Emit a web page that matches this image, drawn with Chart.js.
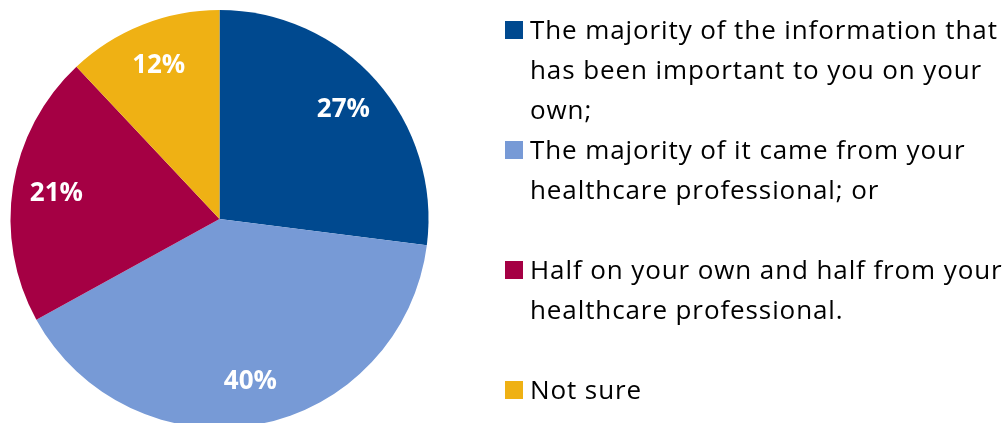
<!DOCTYPE html>
<html>
<head>
<meta charset="utf-8">
<title>Source of information</title>
<script src="https://cdn.jsdelivr.net/npm/chart.js@4/dist/chart.umd.min.js"></script>
<style>
  html, body { margin: 0; padding: 0; background: #fff; overflow: hidden; }
  #wrap { position: relative; width: 1008px; height: 423px; overflow: hidden; }
  #infoChart { position: absolute; left: 0; top: 0; }
</style>
</head>
<body>
<div id="wrap">
  <canvas id="infoChart" width="1008" height="440"></canvas>
</div>
<script>
// Answer options (each legend entry split into its printed lines)
const answers = [
  ['The majority of the information that', 'has been important to you on your', 'own;'],
  ['The majority of it came from your', 'healthcare professional; or'],
  ['Half on your own and half from your', 'healthcare professional.'],
  ['Not sure']
];
// Share of respondents, percent
const shares = [27, 40, 21, 12];
const sliceColors = ['#00498F', '#779AD6', '#A50044', '#EFB114'];

// Percent labels inside each slice
const sliceLabels = {
  id: 'sliceLabels',
  afterDatasetsDraw(chart) {
    const ctx = chart.ctx;
    const meta = chart.getDatasetMeta(0);
    const values = chart.data.datasets[0].data;
    ctx.save();
    ctx.fillStyle = '#ffffff';
    ctx.font = 'bold 26px "Open Sans"';
    ctx.textAlign = 'center';
    ctx.textBaseline = 'middle';
    meta.data.forEach((arc, i) => {
      const p = arc.getProps(['x', 'y', 'startAngle', 'endAngle', 'outerRadius'], true);
      const mid = (p.startAngle + p.endAngle) / 2;
      const r = p.outerRadius * 0.79;
      ctx.fillText(values[i] + '%', p.x + Math.cos(mid) * r, p.y + Math.sin(mid) * r);
    });
    ctx.restore();
  }
};

// Legend on the right: square marker + wrapped lines on a fixed line grid
const sideLegend = {
  id: 'sideLegend',
  afterDraw(chart, args, opts) {
    const ctx = chart.ctx;
    const labels = chart.data.labels;
    const colors = chart.data.datasets[0].backgroundColor;
    ctx.save();
    ctx.font = opts.font;
    ctx.letterSpacing = opts.spacing;
    ctx.textAlign = 'left';
    ctx.textBaseline = 'alphabetic';
    let baseline = opts.top;
    labels.forEach((lines, i) => {
      ctx.fillStyle = colors[i];
      ctx.fillRect(opts.boxX, baseline - opts.box, opts.box, opts.box);
      ctx.fillStyle = '#000000';
      lines.forEach((line) => {
        ctx.fillText(line, opts.textX, baseline);
        baseline += opts.lineHeight;
      });
      baseline += (opts.gaps[i] || 0) * opts.lineHeight;
    });
    ctx.restore();
  }
};

new Chart(document.getElementById('infoChart'), {
  type: 'pie',
  data: {
    labels: answers,
    datasets: [{
      data: shares,
      backgroundColor: sliceColors,
      borderWidth: 0
    }]
  },
  options: {
    responsive: false,
    animation: false,
    layout: {
      padding: { left: 10, top: 10, right: 579, bottom: 12 }
    },
    plugins: {
      legend: { display: false },
      tooltip: { enabled: false },
      sideLegend: {
        font: '26px "Open Sans"',
        spacing: '0.9px',
        top: 39,
        lineHeight: 40,
        boxX: 505,
        box: 18,
        textX: 530,
        gaps: [0, 1, 1, 0]
      }
    }
  },
  plugins: [sliceLabels, sideLegend]
});
</script>
</body>
</html>
